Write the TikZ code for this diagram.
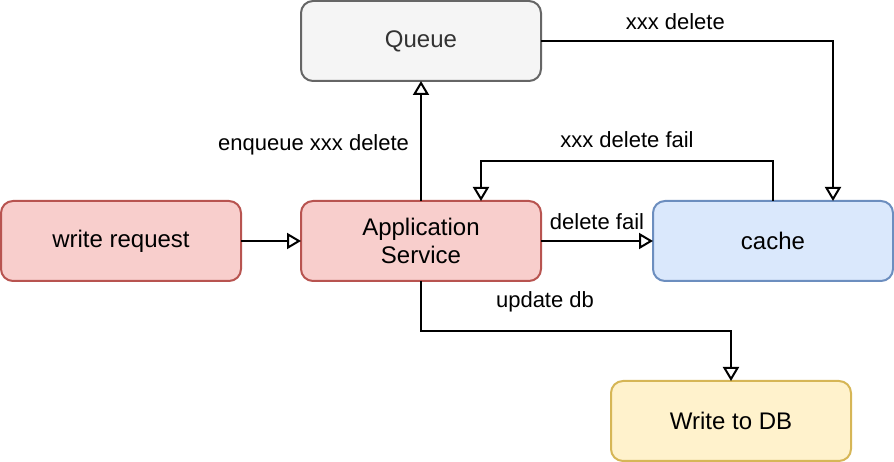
\documentclass[tikz,border=0pt]{standalone}
\usepackage{fontspec}
\setmainfont{Liberation Sans}
\usepackage{xcolor}
\usetikzlibrary{arrows.meta, positioning}

\definecolor{redfill}{HTML}{F8CECC}
\definecolor{redline}{HTML}{B85450}
\definecolor{grayfill}{HTML}{F5F5F5}
\definecolor{grayline}{HTML}{666666}
\definecolor{graytext}{HTML}{333333}
\definecolor{bluefill}{HTML}{DAE8FC}
\definecolor{blueline}{HTML}{6C8EBF}
\definecolor{yellowfill}{HTML}{FFF2CC}
\definecolor{yellowline}{HTML}{D6B656}

\begin{document}
\begin{tikzpicture}[x=1pt, y=1pt,
				box/.style={draw, rounded corners=12pt, line width=2pt, minimum width=240pt, minimum height=80pt,
					inner sep=0pt, outer sep=0pt, align=center, font=\fontsize{24}{28}\selectfont},
				redbox/.style={box, fill=redfill, draw=redline},
				graybox/.style={box, fill=grayfill, draw=grayline, text=graytext},
				bluebox/.style={box, fill=bluefill, draw=blueline},
				yellowbox/.style={box, fill=yellowfill, draw=yellowline},
				lbl/.style={font=\fontsize{22}{26}\selectfont, inner sep=0pt},
				>={Triangle[open, length=14pt, width=16pt]},   %Pfeilspitzen
				line width=2pt]
				%Bildbereich
				\useasboundingbox (0,0) rectangle (894,462);
				% Knoten zeichnen
				\node[redbox] (request) at (121,221) {write request};
				\node[redbox, right=60pt of request] (app) {Application\\Service};
				\node[graybox, above=120pt of app] (queue) {Queue};
				\node[bluebox, right=112pt of app] (cache) {cache};
				\node[yellowbox, below=100pt of cache, xshift=-42pt] (db) {Write to DB};
				% Verbindungen zeichnen
				\draw[->] (request) -- (app);
				\draw[->] (app.north) -- node[lbl, midway, left=11pt, yshift=-4pt] {enqueue xxx delete} (queue.south);
				\draw[->] (queue.east) -| node[lbl, pos=0.23, above=10pt] {xxx delete} ([xshift=60pt]cache.north);
				\draw[->] (cache.north) -- ++(0,40) -| node[lbl, pos=0.25, above=12pt] {xxx delete fail} ([xshift=60pt]app.north);
				\draw[->] (app.east) -- node[lbl, midway, above=10pt] {delete fail} (cache.west);
				\draw[->] (app.south) -- ++(0,-50) -| node[lbl, pos=0.2, above=18pt] {update db} (db.north);
			\end{tikzpicture}
\end{document}
